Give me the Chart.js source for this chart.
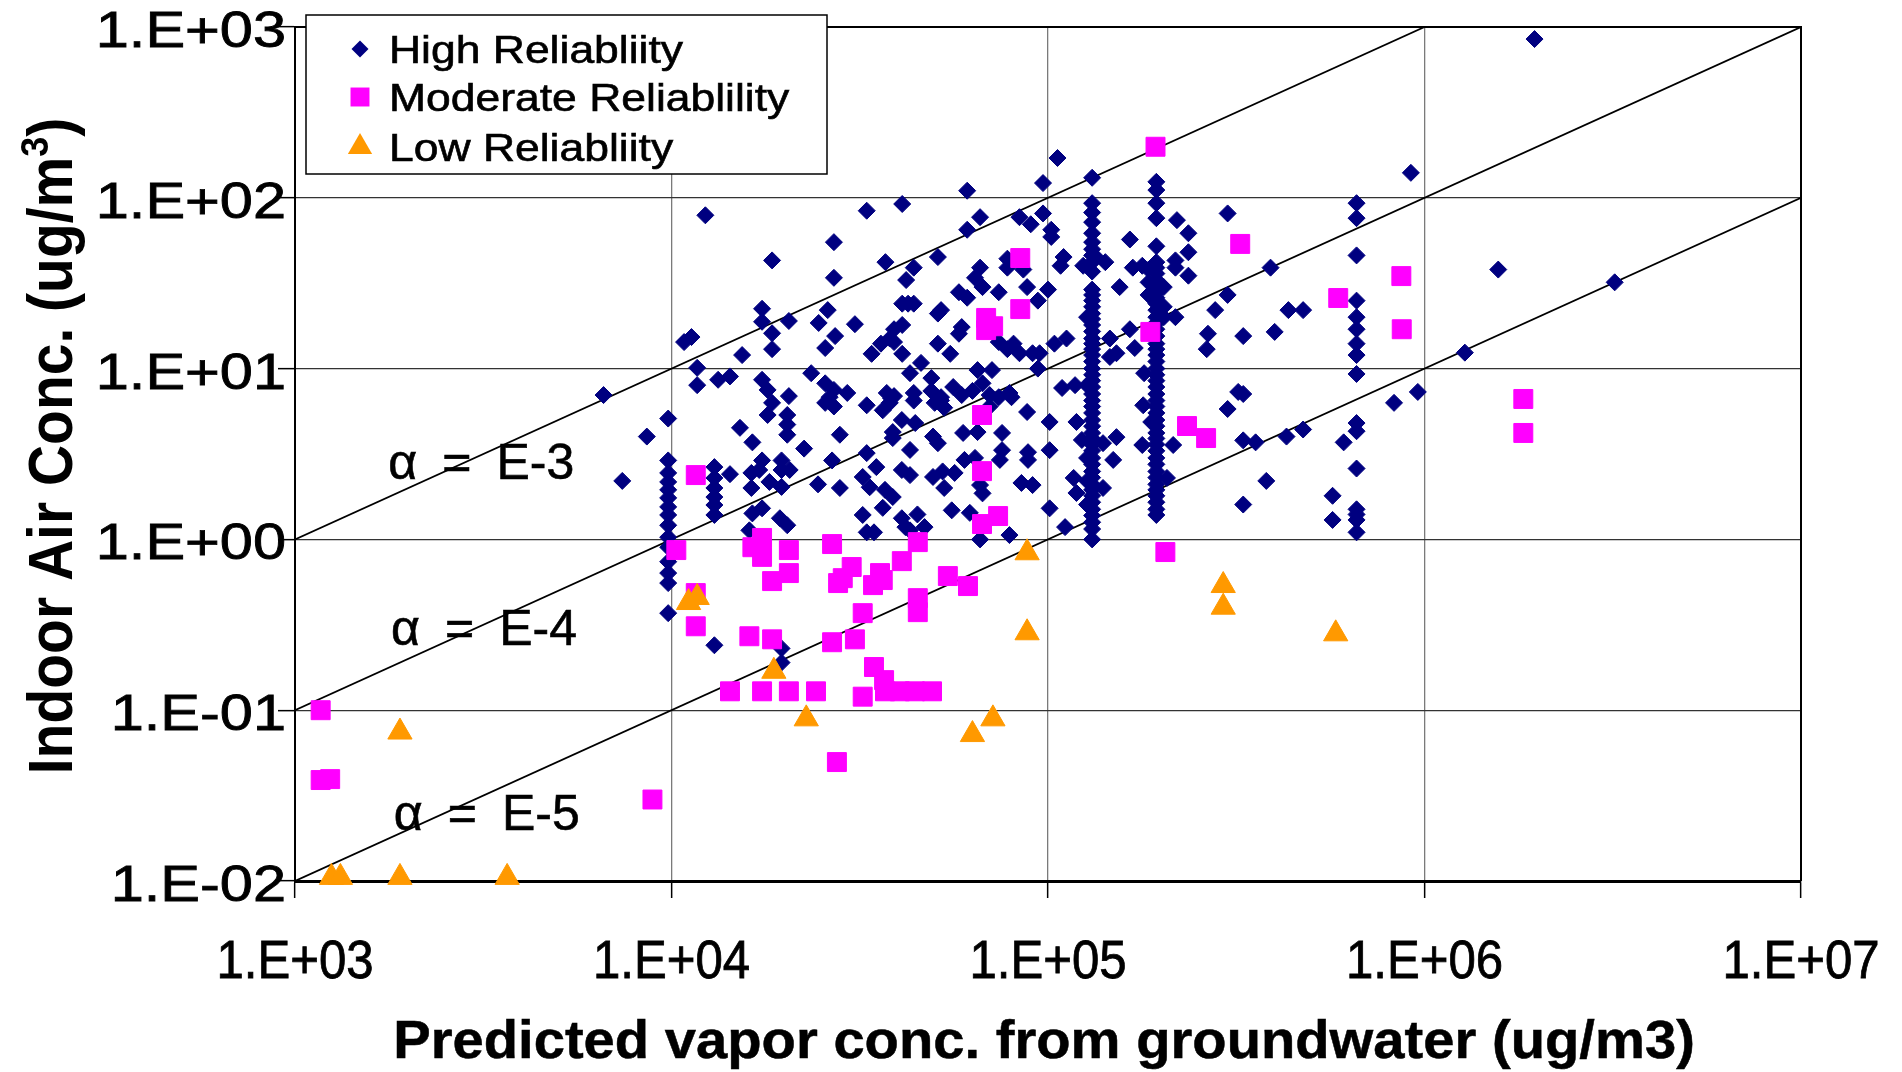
<!DOCTYPE html>
<html>
<head>
<meta charset="utf-8">
<script src="https://cdn.jsdelivr.net/npm/chart.js"></script>
<style>
  html, body { margin: 0; padding: 0; background: #fff; }
  canvas { display: block; }
</style>
</head>
<body>
<canvas id="vaporChart" width="1902" height="1072"></canvas>
<script>
// axis ticks
const xTicks = [1e3, 1e4, 1e5, 1e6, 1e7];
const xTickLabels = ['1.E+03', '1.E+04', '1.E+05', '1.E+06', '1.E+07'];
const yTicks = [1e-2, 1e-1, 1e0, 1e1, 1e2, 1e3];
const yTickLabels = ['1.E-02', '1.E-01', '1.E+00', '1.E+01', '1.E+02', '1.E+03'];

// attenuation factor lines (alpha = indoor / vapor)
const lineE3 = [[1e3, 1], [1e6, 1e3]];
const lineE4 = [[1e3, 0.1], [1e7, 1e3]];
const lineE5 = [[1e3, 0.01], [1e7, 100]];
const alphaLabels = ['\u03b1\u2002=\u2002E-3', '\u03b1\u2002=\u2002E-4', '\u03b1\u2002=\u2002E-5'];

// High reliability  [predicted vapor, indoor air]
const highPoints = [
  [1.96e6, 850], [9.2e5, 140], [3.2e6, 32], [1.57e6, 38], [1.28e6, 12.4], [9.6e5, 7.3], [8.3e5, 6.3],
  [1.06e5, 171], [9.7e4, 122], [1.31e5, 131], [6.1e4, 110], [4.1e4, 92], [3.3e4, 84], [1.23e4, 79],
  [6.6e4, 77], [6.1e4, 65], [8.4e4, 77], [9.0e4, 70], [9.7e4, 81], [1.02e5, 65], [1.02e5, 59],
  [2.7e4, 55], [1.85e4, 43], [3.7e4, 42], [4.2e4, 33], [4.4e4, 39], [2.7e4, 34], [5.1e4, 45],
  [6.6e4, 39], [6.4e4, 34], [6.7e4, 30], [7.8e4, 44], [7.8e4, 39], [8.6e4, 38], [7.4e4, 28],
  [8.8e4, 30], [1.0e5, 29], [9.4e4, 25], [5.8e4, 28], [6.1e4, 26], [4.1e4, 24], [4.25e4, 24],
  [4.4e4, 24], [5.1e4, 21], [5.2e4, 22], [4.1e4, 18], [3.9e4, 17], [3.8e4, 15], [3.6e4, 14],
  [3.9e4, 14.3], [3.4e4, 12.2], [4.1e4, 12.2], [5.1e4, 14], [5.5e4, 12.2], [5.9e4, 17.5], [5.8e4, 16],
  [7.4e4, 14.3], [8.1e4, 14], [7.8e4, 13], [8.4e4, 12.3], [9.1e4, 12.3], [9.5e4, 12.3], [1.04e5, 14],
  [1.12e5, 15], [1.09e5, 7.7], [1.18e5, 8.0], [9.4e4, 10], [4.6e4, 10.8], [4.3e4, 9.4], [4.9e4, 8.8],
  [4.4e4, 6.5], [5.6e4, 7.8], [5.2e4, 6.5], [6.5e4, 9.8], [7.1e4, 9.8], [6.7e4, 8.2], [7.4e4, 6.8],
  [8.0e4, 6.8], [1.24e5, 40], [1.34e5, 45], [1.42e5, 42], [1.1e5, 45], [1.08e5, 40], [1.65e5, 57],
  [1.55e5, 30], [1.46e5, 15], [1.46e5, 11.7], [1.52e5, 12.3], [1.65e5, 17], [1.8e5, 9.4], [1.68e5, 39],
  [1.78e5, 40], [1.7e5, 13.2], [2.36e5, 62], [2.36e5, 48], [2.36e5, 35], [2.2e5, 74], [2.18e5, 43],
  [2.18e5, 39], [2.18e5, 20], [2.66e5, 16], [2.64e5, 13], [2.78e5, 22], [3.0e5, 81], [3.9e5, 39],
  [3.0e5, 27], [4.35e5, 22], [4.76e5, 22], [3.3e5, 15.5], [4.0e5, 16.4], [3.2e5, 7.3], [3.3e5, 7.1],
  [3.0e5, 5.8], [3.3e5, 3.8], [3.56e5, 3.7], [4.3e5, 4.0], [4.76e5, 4.4], [6.1e5, 3.7], [5.7e5, 1.8],
  [5.7e5, 1.3], [3.8e5, 2.2], [3.3e5, 1.6],
  // column near 6.6E+05
  [6.6e5, 93], [6.6e5, 76], [6.6e5, 46], [6.6e5, 25], [6.6e5, 20], [6.6e5, 17], [6.6e5, 14], [6.6e5, 12],
  [6.6e5, 9.3], [6.6e5, 4.8], [6.6e5, 4.3], [6.6e5, 2.6], [6.6e5, 1.5], [6.6e5, 1.4], [6.6e5, 1.3], [6.6e5, 1.1],
  // column near 1.3E+05
  [1.31e5, 93], [1.31e5, 82], [1.31e5, 72], [1.31e5, 62], [1.31e5, 55], [1.31e5, 50], [1.31e5, 46],
  [1.31e5, 42], [1.31e5, 37], [1.31e5, 29], [1.31e5, 27], [1.31e5, 25], [1.31e5, 23], [1.31e5, 21],
  [1.31e5, 19.5], [1.31e5, 18], [1.31e5, 16.5], [1.31e5, 15], [1.31e5, 14], [1.31e5, 13], [1.31e5, 12],
  [1.31e5, 11], [1.31e5, 10], [1.31e5, 9.2], [1.31e5, 8.5], [1.31e5, 7.8], [1.31e5, 7.1], [1.31e5, 6.5],
  [1.31e5, 6.0], [1.31e5, 5.5], [1.31e5, 5.0], [1.31e5, 4.6], [1.31e5, 4.2], [1.31e5, 3.9], [1.31e5, 3.6],
  [1.31e5, 3.3], [1.31e5, 3.0], [1.31e5, 2.75], [1.31e5, 2.5], [1.31e5, 2.3], [1.31e5, 2.1], [1.31e5, 1.95],
  [1.31e5, 1.8], [1.31e5, 1.65], [1.31e5, 1.5], [1.31e5, 1.38], [1.31e5, 1.26], [1.31e5, 1.15], [1.31e5, 1.0],
  [1.27e5, 20], [1.27e5, 8], [1.27e5, 3.0], [1.27e5, 2.2], [1.27e5, 1.6],
  // column near 1.9E+05
  [1.94e5, 124], [1.94e5, 111], [1.94e5, 93], [1.94e5, 76], [1.94e5, 52], [1.94e5, 42], [1.94e5, 39],
  [1.94e5, 36], [1.94e5, 33], [1.94e5, 30], [1.94e5, 28], [1.94e5, 26], [1.94e5, 24], [1.94e5, 22],
  [1.94e5, 20], [1.94e5, 18.5], [1.94e5, 17], [1.94e5, 15.5], [1.94e5, 14], [1.94e5, 13], [1.94e5, 12],
  [1.94e5, 11], [1.94e5, 10], [1.94e5, 9.2], [1.94e5, 8.5], [1.94e5, 7.8], [1.94e5, 7.1], [1.94e5, 6.5],
  [1.94e5, 6.0], [1.94e5, 5.5], [1.94e5, 5.0], [1.94e5, 4.6], [1.94e5, 4.2], [1.94e5, 3.9], [1.94e5, 3.6],
  [1.94e5, 3.3], [1.94e5, 3.0], [1.94e5, 2.75], [1.94e5, 2.5], [1.94e5, 2.3], [1.94e5, 2.1], [1.94e5, 1.95],
  [1.94e5, 1.8], [1.94e5, 1.65], [1.94e5, 1.5], [1.94e5, 1.39],
  [1.85e5, 38], [1.85e5, 32], [1.85e5, 27], [2.03e5, 23], [2.03e5, 20], [2.03e5, 30],
  // column near 1.0E+04
  [9.8e3, 5.1], [9.8e3, 2.9], [9.8e3, 2.45], [9.8e3, 2.17], [9.8e3, 1.95], [9.8e3, 1.75], [9.8e3, 1.55],
  [9.8e3, 1.39], [9.8e3, 1.21], [9.8e3, 1.03], [9.8e3, 0.9], [9.8e3, 0.74], [9.8e3, 0.635], [9.8e3, 0.555],
  [9.8e3, 0.37],
  [1.3e4, 2.65], [1.3e4, 2.29], [1.3e4, 2.0], [1.3e4, 1.77], [1.3e4, 1.59], [1.3e4, 1.39], [1.43e4, 2.41],
  // left and middle cloud
  [6.6e3, 7.0], [7.4e3, 2.2], [8.6e3, 4.0], [1.08e4, 14.3], [1.13e4, 15.3], [1.17e4, 10.1], [1.17e4, 8.0],
  [1.33e4, 8.6], [1.43e4, 9.0], [1.54e4, 12], [1.74e4, 22.4], [1.74e4, 18.8], [2.05e4, 19], [1.85e4, 16.1],
  [1.85e4, 13], [2.6e4, 22], [2.46e4, 18.5], [2.72e4, 15.5], [2.56e4, 13.2], [3.07e4, 18.2], [1.74e4, 8.6],
  [1.8e4, 7.5], [1.85e4, 6.3], [2.05e4, 6.9], [2.35e4, 9.4], [2.56e4, 8.2], [2.7e4, 7.5], [2.93e4, 7.2],
  [2.63e4, 6.8], [3.73e4, 7.2], [3.83e4, 6.7], [3.3e4, 6.1], [1.52e4, 4.5], [1.64e4, 3.7], [1.74e4, 2.9],
  [1.63e4, 2.45], [1.63e4, 2.0], [1.71e4, 2.55], [1.82e4, 2.17], [1.96e4, 2.9], [1.96e4, 2.55], [1.96e4, 2.03],
  [2.06e4, 2.55], [1.64e4, 1.42], [1.74e4, 1.52], [1.94e4, 1.33], [2.03e4, 1.21], [1.61e4, 1.13], [1.8e4, 5.35],
  [2.03e4, 5.35], [2.03e4, 4.7], [2.03e4, 4.1], [2.25e4, 3.4], [2.45e4, 2.1], [2.67e4, 2.9], [2.8e4, 2.0],
  [2.8e4, 4.1], [2.56e4, 6.3], [2.7e4, 6.0], [3.64e4, 5.7], [3.8e4, 6.3], [3.9e4, 6.9], [4.09e4, 5.0],
  [3.87e4, 4.25], [3.87e4, 3.92], [3.3e4, 3.2], [3.22e4, 2.32], [3.36e4, 2.02], [3.5e4, 2.65], [3.69e4, 1.95],
  [3.87e4, 1.77], [3.64e4, 1.53], [3.22e4, 1.39], [3.3e4, 1.1], [3.45e4, 1.1], [4.09e4, 1.33], [4.3e4, 1.13],
  [4.3e4, 3.34], [4.09e4, 2.55], [4.3e4, 2.38], [4.44e4, 4.8],
  [1.19e5, 4.87], [1.23e5, 3.82], [1.17e5, 2.29], [1.19e5, 1.87], [1.4e5, 3.66], [1.52e5, 3.97], [1.49e5, 2.92],
  [1.4e5, 2.0], [1.11e5, 1.18], [1.01e5, 4.87], [1.01e5, 3.33], [1.01e5, 1.52], [1.79e5, 6.1], [1.88e5, 4.87],
  [1.78e5, 3.57], [2.15e5, 3.57], [2.07e5, 2.29], [8.8e4, 5.57], [7.55e4, 4.2], [7.55e4, 3.33], [8.85e4, 3.24],
  [8.85e4, 2.92], [8.5e4, 2.14], [9.1e4, 2.08], [7.45e4, 2.92], [7.9e4, 1.06], [6.6e4, 1.0], [5.55e4, 1.48],
  [6.2e4, 1.43], [5.3e4, 2.0], [5.65e4, 2.45], [5.25e4, 2.5], [4.95e4, 2.32], [4.18e4, 1.18], [4.5e4, 1.4],
  [4.7e4, 1.18], [6.6e4, 2.08], [6.7e4, 1.86], [7.9e4, 7.2], [6.0e4, 2.92], [6.4e4, 3.0], [6.5e4, 4.25],
  [5.95e4, 4.2], [5.1e4, 3.66], [4.95e4, 4.0], [4.4e4, 7.2], [4.9e4, 7.4], [5.2e4, 6.8], [5.0e4, 6.3],
  [5.3e4, 5.9], [5.9e4, 7.0], [6.3e4, 7.4], [7.0e4, 7.0], [7.0e4, 6.0],
  [1.3e4, 0.24], [1.96e4, 0.23], [1.96e4, 0.19]
];

// Moderate reliability
const moderatePoints = [
  [1.17e3, 0.1], [1.17e3, 0.039], [1.24e3, 0.0395], [8.9e3, 0.030], [1.16e4, 2.38], [1.03e4, 0.866],
  [1.64e4, 0.90], [1.74e4, 1.02], [1.74e4, 0.79], [2.05e4, 0.866], [1.85e4, 0.57], [2.05e4, 0.635],
  [2.67e4, 0.939], [3.01e4, 0.689], [2.85e4, 0.593], [2.77e4, 0.555], [3.58e4, 0.635], [3.43e4, 0.54],
  [3.64e4, 0.578], [4.09e4, 0.746], [4.51e4, 0.964], [3.22e4, 0.37], [1.16e4, 0.485], [1.16e4, 0.31],
  [1.61e4, 0.271], [1.85e4, 0.26], [2.67e4, 0.25], [3.07e4, 0.26], [1.43e4, 0.129], [1.74e4, 0.129],
  [2.05e4, 0.129], [2.42e4, 0.129], [3.45e4, 0.179], [3.67e4, 0.15], [3.22e4, 0.12], [3.69e4, 0.129],
  [4.04e4, 0.129], [4.43e4, 0.129], [4.92e4, 0.129], [2.75e4, 0.0497], [6.68e4, 5.35], [6.68e4, 2.51],
  [7.37e4, 1.37], [6.68e4, 1.23], [5.42e4, 0.61], [6.13e4, 0.533], [4.51e4, 0.453], [4.51e4, 0.375],
  [2.34e5, 4.61], [2.63e5, 3.92], [2.05e5, 0.843], [8.44e4, 44.4], [8.44e4, 22.3], [6.85e4, 19.8],
  [7.15e4, 17.7], [6.85e4, 16.8], [1.87e5, 16.4], [1.93e5, 199], [3.24e5, 53.7], [5.9e5, 25.9],
  [8.68e5, 34.8], [8.7e5, 17], [1.83e6, 6.64], [1.83e6, 4.2]
];

// Low reliability
const lowPoints = [
  [1.25e3, 0.0105], [1.32e3, 0.0105], [1.9e3, 0.0105], [3.66e3, 0.0105], [1.9e3, 0.0745], [1.11e4, 0.427],
  [1.17e4, 0.457], [1.87e4, 0.169], [2.28e4, 0.089], [6.3e4, 0.072], [7.14e4, 0.089], [8.8e4, 0.835],
  [8.8e4, 0.284], [2.92e5, 0.537], [2.92e5, 0.401], [5.81e5, 0.28]
];

const FONT = '"Liberation Sans", Arial, Helvetica, sans-serif';
const toXY = arr => arr.map(p => ({ x: p[0], y: p[1] }));

// text with horizontal stretch and a thin outline to thicken it a little
function stretchText(ctx, txt, x, y, font, sx, align, weight) {
  ctx.save();
  ctx.font = font;
  ctx.fillStyle = '#000';
  ctx.strokeStyle = '#000';
  ctx.lineWidth = weight || 0;
  ctx.textAlign = align || 'left';
  ctx.textBaseline = 'alphabetic';
  ctx.translate(x, y);
  ctx.scale(sx, 1);
  ctx.fillText(txt, 0, 0);
  if (weight) ctx.strokeText(txt, 0, 0);
  ctx.restore();
}

function marker(ctx, style, x, y, r, color) {
  ctx.save();
  ctx.fillStyle = color;
  ctx.beginPath();
  if (style === 'rectRot') {
    ctx.moveTo(x - r, y); ctx.lineTo(x, y - r); ctx.lineTo(x + r, y); ctx.lineTo(x, y + r);
  } else if (style === 'rect') {
    const s = r * Math.SQRT1_2;
    ctx.rect(x - s, y - s, 2 * s, 2 * s);
  } else {
    ctx.moveTo(x, y - r);
    ctx.lineTo(x + 0.866 * r, y + 0.5 * r);
    ctx.lineTo(x - 0.866 * r, y + 0.5 * r);
  }
  ctx.closePath();
  ctx.fill();
  ctx.restore();
}

const seriesStyle = [
  { label: 'High Reliabliity', style: 'rectRot', r: 8.5, color: '#000080' },
  { label: 'Moderate Reliablility', style: 'rect', r: 13.4, color: '#ff00ff' },
  { label: 'Low Reliabliity', style: 'triangle', r: 14, color: '#ff9900' }
];

const frameAndText = {
  id: 'frameAndText',
  beforeDatasetsDraw(chart) {
    const { ctx, chartArea: a } = chart;
    ctx.save();
    ctx.strokeStyle = '#000';
    ctx.lineWidth = 2;
    ctx.beginPath();
    ctx.moveTo(a.left, a.top); ctx.lineTo(a.right, a.top); ctx.lineTo(a.right, a.bottom);
    ctx.stroke();
    ctx.restore();
  },
  afterDatasetsDraw(chart) {
    const { ctx } = chart;
    const xs = chart.scales.x, ys = chart.scales.y;

    // alpha labels, anchored in data space
    const anchors = [[1.77e3, 2.26], [1.80e3, 0.241], [1.83e3, 0.0199]];
    alphaLabels.forEach((t, i) => {
      stretchText(ctx, t, xs.getPixelForValue(anchors[i][0]), ys.getPixelForValue(anchors[i][1]),
        '50px ' + FONT, 1, 'left', 0.6);
    });

    // legend
    const L = { x: 306, y: 15, w: 521, h: 159 };
    ctx.save();
    ctx.fillStyle = '#fff';
    ctx.fillRect(L.x, L.y, L.w, L.h);
    ctx.strokeStyle = '#000';
    ctx.lineWidth = 1.5;
    ctx.strokeRect(L.x, L.y, L.w, L.h);
    ctx.restore();
    const rowY = [49, 97, 147];
    seriesStyle.forEach((s, i) => {
      marker(ctx, s.style, 360, rowY[i], s.r, s.color);
      stretchText(ctx, s.label, 389, rowY[i] + 14, '38px ' + FONT, 1.17, 'left', 0.6);
    });

    // tick labels
    ys.ticks.forEach((t, i) => {
      stretchText(ctx, yTickLabels[i], 286, ys.getPixelForValue(t.value) + 20, '50px ' + FONT, 1.19, 'right', 0.8);
    });
    xs.ticks.forEach((t, i) => {
      stretchText(ctx, xTickLabels[i], xs.getPixelForValue(t.value), 978, '54px ' + FONT, 0.91, 'center', 0.8);
    });

    // x title
    stretchText(ctx, 'Predicted vapor conc. from groundwater (ug/m3)', 1044, 1058, 'bold 53px ' + FONT, 1.06, 'center', 0.5);

    // y title, rotated, with superscript 3
    ctx.save();
    ctx.translate(72, 446);
    ctx.scale(1.1, 1);
    ctx.rotate(-Math.PI / 2);
    ctx.fillStyle = '#000';
    ctx.textBaseline = 'alphabetic';
    const big = 'bold 57px ' + FONT, small = 'bold 36px ' + FONT;
    const main = 'Indoor Air Conc. (ug/m', sup = '3', close = ')';
    ctx.font = big; const w1 = ctx.measureText(main).width, w3 = ctx.measureText(close).width;
    ctx.font = small; const w2 = ctx.measureText(sup).width;
    let x0 = -(w1 + w2 + w3) / 2;
    ctx.font = big; ctx.fillText(main, x0, 0);
    ctx.font = small; ctx.fillText(sup, x0 + w1, -22);
    ctx.font = big; ctx.fillText(close, x0 + w1 + w2, 0);
    ctx.restore();
  }
};

const lineSet = (pts) => ({
  type: 'line', data: toXY(pts), borderColor: '#000', borderWidth: 1.8, pointRadius: 0,
  showLine: true, fill: false, tension: 0, order: 4
});

new Chart(document.getElementById('vaporChart').getContext('2d'), {
  type: 'scatter',
  data: {
    datasets: [
      ...seriesStyle.map((s, i) => ({
        label: s.label,
        data: toXY([highPoints, moderatePoints, lowPoints][i]),
        pointStyle: s.style,
        pointRadius: s.r,
        backgroundColor: s.color,
        borderColor: s.color,
        borderWidth: 1,
        clip: false,
        order: 3 - i
      })),
      lineSet(lineE3), lineSet(lineE4), lineSet(lineE5)
    ]
  },
  options: {
    responsive: false,
    animation: false,
    devicePixelRatio: 1,
    events: [],
    layout: { padding: { left: 278, top: 27, right: 101, bottom: 174 } },
    plugins: { legend: { display: false }, tooltip: { enabled: false } },
    scales: {
      x: {
        type: 'logarithmic', min: 1e3, max: 1e7,
        afterBuildTicks: s => { s.ticks = xTicks.map(v => ({ value: v })); },
        ticks: { display: false },
        grid: { color: '#7a7a7a', lineWidth: 1.3, tickLength: 17, tickColor: '#000', tickWidth: 1.5 },
        border: { color: '#000', width: 3 }
      },
      y: {
        type: 'logarithmic', min: 1e-2, max: 1e3,
        afterBuildTicks: s => { s.ticks = yTicks.map(v => ({ value: v })); },
        ticks: { display: false },
        grid: { color: '#333', lineWidth: 1.3, tickLength: 17, tickColor: '#000', tickWidth: 1.5 },
        border: { color: '#000', width: 2 }
      }
    }
  },
  plugins: [frameAndText]
});
</script>
</body>
</html>
